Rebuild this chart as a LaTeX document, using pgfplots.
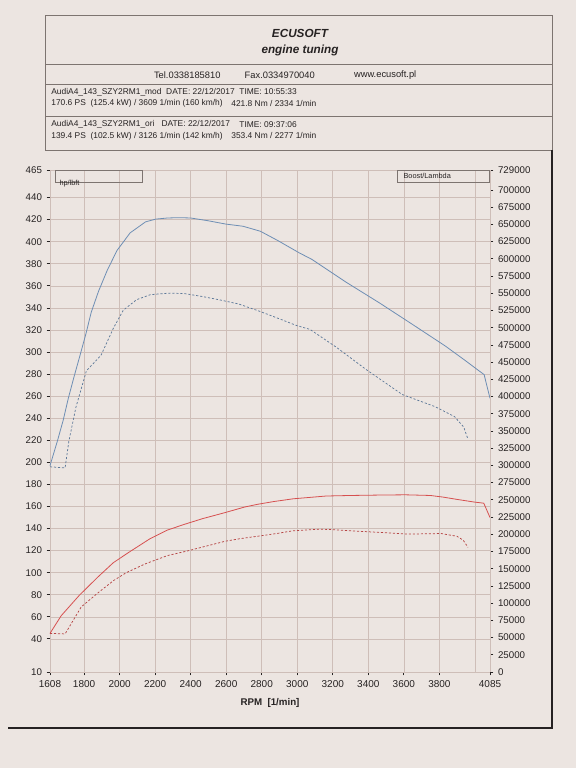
\documentclass[border=0pt]{standalone}
\usepackage{fontspec}
\setmainfont{Liberation Sans}
\usepackage{pgfplots}
\pgfplotsset{compat=1.18}
\definecolor{paper}{RGB}{236,229,225}
\definecolor{gridc}{RGB}{206,190,184}
\definecolor{boxc}{RGB}{125,116,112}
\definecolor{txt}{RGB}{38,34,34}
\definecolor{modblue}{RGB}{110,142,180}
\definecolor{modred}{RGB}{214,80,80}

\pgfplotstableread{
x y
1608 197
1649 219
1682 238
1711 258
1744 278
1777 297
1811 317
1840 336
1881 355
1930 374
1985 392
2059 408
2146 418
2204 420.5
2270 421.5
2334 421.8
2400 421.5
2498 419
2597 416
2695 414
2792 409.5
2891 401
3010 390
3082 384
3273 363.5
3463 344.5
3649 325
3833 305.5
3944 292.5
4052 279.5
4085 258
}\modtorque

\pgfplotstableread{
x y
1608 196
1693 195
1714 219
1754 250
1813 283
1895 297
1966 322
2021 338
2096 347.5
2173 352
2277 353.4
2364 353
2460 350.5
2557 347.5
2671 343.5
2787 337
2901 330
2997 324
3072 320.5
3223 304
3389 284
3591 261.5
3776 250.5
3885 241.5
3937 232
3961 221
}\oritorque

\pgfplotstableread{
x y
1608 45
1671 61
1773 79.5
1877 96
1964 109
2052 118.5
2168 130.5
2267 138.5
2358 143.5
2467 149
2594 154.5
2703 159.5
2777 162
2868 164.5
2978 167
3052 168
3162 169.5
3300 170
3474 170.4
3609 170.6
3749 170
3822 168.5
3897 166.5
3998 164
4050 163
4085 150
}\modpower

\pgfplotstableread{
x y
1608 45
1693 44.5
1743 58
1784 69
1880 82
1967 93
2037 100
2144 108
2269 115.5
2376 119.5
2485 124
2594 128.5
2684 131
2775 133
2884 135.5
2975 138
3126 139.4
3174 139.2
3302 138
3464 136.5
3627 135
3737 135.3
3810 135.5
3899 133
3934 129.5
3961 123
}\oripower

\begin{document}
\begin{tikzpicture}
\fill[paper] (0pt,0pt) rectangle (432pt,576pt);

% header boxes
\draw[boxc, line width=0.5pt] (33.75pt,564.75pt) rectangle (414pt,463.5pt);
\draw[boxc, line width=0.5pt] (33.75pt,528pt) -- (414pt,528pt);
\draw[boxc, line width=0.5pt] (33.75pt,513pt) -- (414pt,513pt);
\draw[boxc, line width=0.5pt] (33.75pt,489pt) -- (414pt,489pt);

\node[txt, font=\fontsize{8.8}{9}\bfseries\itshape\selectfont] at (225pt,551pt) {ECUSOFT};
\node[txt, font=\fontsize{8.8}{9}\bfseries\itshape\selectfont] at (225pt,538.5pt) {engine tuning};

\node[txt, anchor=west, font=\fontsize{7}{8}\selectfont] at (112pt,519.5pt) {Tel.0338185810};
\node[txt, anchor=west, font=\fontsize{7}{8}\selectfont] at (180pt,519.5pt) {Fax.0334970040};
\node[txt, anchor=west, font=\fontsize{7}{8}\selectfont] at (262pt,519.5pt) {www.ecusoft.pl};

\node[txt, anchor=west, font=\fontsize{6.3}{7}\selectfont] at (35pt,507pt) {AudiA4\_143\_SZY2RM1\_mod\ \ DATE: 22/12/2017};
\node[txt, anchor=west, font=\fontsize{6.3}{7}\selectfont] at (176pt,507pt) {TIME: 10:55:33};
\node[txt, anchor=west, font=\fontsize{6.3}{7}\selectfont] at (35pt,498.5pt) {170.6 PS\ \ (125.4 kW) / 3609 1/min (160 km/h)};
\node[txt, anchor=west, font=\fontsize{6.3}{7}\selectfont] at (170pt,498.5pt) {421.8 Nm / 2334 1/min};

\node[txt, anchor=west, font=\fontsize{6.3}{7}\selectfont] at (35pt,482.5pt) {AudiA4\_143\_SZY2RM1\_ori\ \ \ DATE: 22/12/2017};
\node[txt, anchor=west, font=\fontsize{6.3}{7}\selectfont] at (176pt,482.5pt) {TIME: 09:37:06};
\node[txt, anchor=west, font=\fontsize{6.3}{7}\selectfont] at (35pt,474pt) {139.4 PS\ \ (102.5 kW) / 3126 1/min (142 km/h)};
\node[txt, anchor=west, font=\fontsize{6.3}{7}\selectfont] at (170pt,474pt) {353.4 Nm / 2277 1/min};

% outer frame lines
\draw[txt, line width=0.9pt] (414pt,463.5pt) -- (414pt,30pt) -- (6pt,30pt);

\begin{axis}[
  name=main,
  scale only axis,
  width=330pt, height=376.5pt,
  at={(37.5pt,72pt)}, anchor=south west,
  xmin=1608, xmax=4085, ymin=10, ymax=465,
  axis lines*=left,
  axis line style={gridc, line width=0.5pt},
  xtick={1608,1800,2000,2200,2400,2600,2800,3000,3200,3400,3600,3800,4085},
  ytick={10,40,60,80,100,120,140,160,180,200,220,240,260,280,300,320,340,360,380,400,420,440,465},
  extra x ticks={4000},
  extra x tick labels={},
  extra x tick style={grid=major, major tick length=0pt},
  grid=major,
  major grid style={gridc, line width=0.45pt},
  tick align=outside,
  major tick length=2.5pt,
  tick style={txt, line width=0.6pt},
  xticklabel style={font=\fontsize{7.5}{8}\selectfont, txt, /pgf/number format/1000 sep={}},
  yticklabel style={font=\fontsize{7.3}{8}\selectfont, txt},
  /pgf/number format/assume math mode=true,
  xlabel={RPM\ \ [1/min]},
  xlabel style={font=\fontsize{7.3}{8}\bfseries\selectfont, txt, yshift=1pt},
  clip=false,
]
\addplot[modblue, line width=0.6pt] table[x=x,y=y] {\modtorque};
\addplot[modblue!85!black, line width=0.55pt, dash pattern=on 1.6pt off 1.4pt] table[x=x,y=y] {\oritorque};
\addplot[modred, line width=0.6pt] table[x=x,y=y] {\modpower};
\addplot[modred!85!black, line width=0.55pt, dash pattern=on 1.6pt off 1.4pt] table[x=x,y=y] {\oripower};
\draw[boxc, line width=0.4pt] (rel axis cs:0.012,1) rectangle (rel axis cs:0.21,0.976);
\node[txt, anchor=west, font=\fontsize{5.5}{6}\selectfont, inner sep=1pt] at (rel axis cs:0.018,0.972) {hp/lbft};
\draw[boxc, line width=0.4pt] (rel axis cs:0.79,1) rectangle (rel axis cs:0.998,0.976);
\node[txt, anchor=west, font=\fontsize{5.5}{6}\selectfont, inner sep=1pt] at (rel axis cs:0.80,0.988) {Boost/Lambda};
\end{axis}

\begin{axis}[
  scale only axis,
  width=330pt, height=376.5pt,
  at={(main.south west)}, anchor=south west,
  xmin=1608, xmax=4085, ymin=0, ymax=729000,
  axis x line=none,
  axis y line*=right,
  axis line style={gridc, line width=0.5pt},
  ytick={0,25000,50000,75000,100000,125000,150000,175000,200000,225000,250000,275000,300000,325000,350000,375000,400000,425000,450000,475000,500000,525000,550000,575000,600000,625000,650000,675000,700000,729000},
  scaled y ticks=false,
  tick align=outside,
  major tick length=2.5pt,
  tick style={txt, line width=0.6pt},
  yticklabel style={font=\fontsize{7.3}{8}\selectfont, txt, /pgf/number format/fixed, /pgf/number format/1000 sep={}},
  /pgf/number format/assume math mode=true,
]
\end{axis}
\end{tikzpicture}
\end{document}
